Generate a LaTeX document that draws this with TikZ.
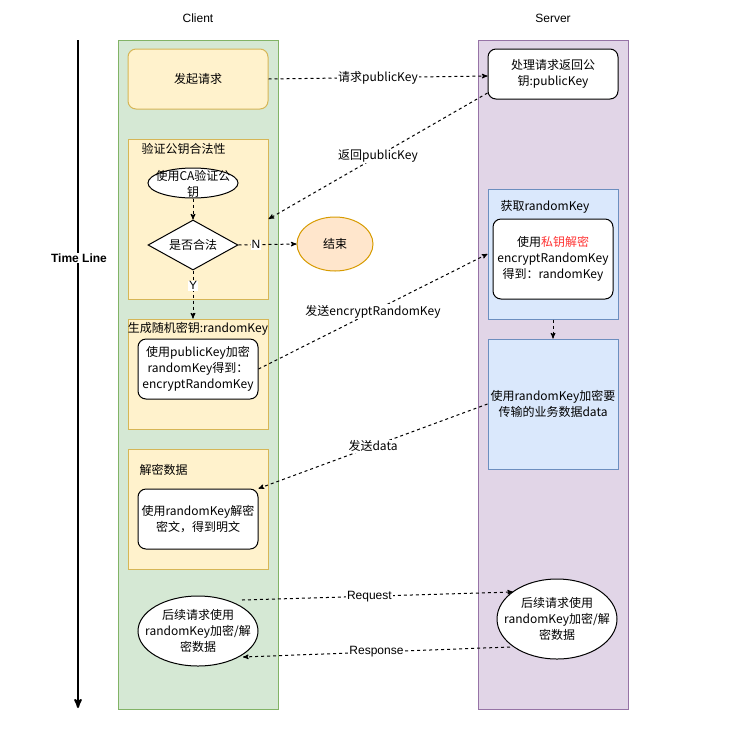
\documentclass[tikz,border=0pt]{standalone}
\usepackage{fontspec}
\setmainfont{Noto Sans CJK SC}
\newfontfamily\latinfont{Liberation Sans}
\usetikzlibrary{arrows,shapes}
\definecolor{clientfill}{HTML}{D5E8D4}
\definecolor{clientline}{HTML}{82B366}
\definecolor{serverfill}{HTML}{E1D5E7}
\definecolor{serverline}{HTML}{9673A6}
\definecolor{stepfill}{HTML}{FFF2CC}
\definecolor{stepline}{HTML}{D6B656}
\definecolor{keyfill}{HTML}{DAE8FC}
\definecolor{keyline}{HTML}{6C8EBF}
\definecolor{endfill}{HTML}{FFE6CC}
\definecolor{endline}{HTML}{D79B00}
\definecolor{keyred}{HTML}{FF3333}

\begin{document}
\begin{tikzpicture}[x=1pt,y=-1pt,>=stealth',line width=1pt,
                    font=\fontsize{12}{16}\selectfont]
  \tikzstyle{every node}=[inner sep=0pt,align=center]
  \tikzstyle{latin}=[font=\latinfont\fontsize{12}{14}\selectfont]
  \tikzstyle{lane}=[rectangle,draw,minimum height=669]
  \tikzstyle{yellowbox}=[rectangle,draw=stepline,fill=stepfill,minimum width=140]
  \tikzstyle{bluebox}=[rectangle,draw=keyline,fill=keyfill,minimum width=130]
  \tikzstyle{whitebox}=[rectangle,draw,fill=white,rounded corners=8]
  \tikzstyle{flow}=[->,dashed]
  \tikzstyle{lbl}=[fill=white,inner sep=1pt]

  \useasboundingbox (0,0) rectangle (752,748);

  % lanes
  \node[lane,fill=clientfill,draw=clientline,minimum width=160] (client) at (198,374.5) {};
  \node[lane,fill=serverfill,draw=serverline,minimum width=150] (server) at (553,374.5) {};
  \node[latin] (clienttitle) at (198,18) {Client};
  \node[latin] (servertitle) at (553,18) {Server};

  % time line
  \coordinate (tltop) at (78,40);
  \coordinate (tlend) at (78,708);
  \draw[->,line width=2pt] (tltop) -- (tlend);
  \node[fill=white,inner sep=1pt,font=\latinfont\bfseries\fontsize{12}{14}\selectfont] (timeline) at (79,258) {Time Line};

  % client side
  \node[yellowbox,rounded corners=8,minimum height=60] (start) at (198,79) {发起请求};

  \node[yellowbox,minimum height=160] (verify) at (198,219) {};
  \node[anchor=west] (verifytitle) at (141,149) {验证公钥合法性};
  \node[ellipse,draw,fill=white,minimum width=90,minimum height=30] (ca) at (193,183) {};
  \node (catext) at (193,184) {使用CA验证公\\钥};
  \node[diamond,draw,fill=white,minimum width=90,minimum height=50] (check) at (193,245) {};
  \node (checktext) at (193,245) {是否合法};
  \node[ellipse,draw=endline,fill=endfill,minimum width=76,minimum height=54] (end) at (335,244) {结束};

  \node[yellowbox,minimum height=110] (genkey) at (198,374) {};
  \node (genkeytitle) at (198,329) {生成随机密钥:randomKey};
  \node[whitebox,minimum width=120,minimum height=60] (encbox) at (198,369) {使用publicKey加密\\randomKey得到：\\encryptRandomKey};

  \node[yellowbox,minimum height=120] (decrypt) at (198,509) {};
  \node[anchor=west] (decrypttitle) at (139,470) {解密数据};
  \node[whitebox,minimum width=120,minimum height=60] (decbox) at (198,519) {使用randomKey解密\\密文，得到明文};

  \node[ellipse,draw,fill=white,minimum width=120,minimum height=70] (reqL) at (198,631) {};
  \node (reqLtext) at (198,631) {后续请求使用\\randomKey加密/解\\密数据};

  % server side
  \node[whitebox,minimum width=130,minimum height=50] (srvkey) at (553,74) {处理请求返回公\\钥:publicKey};

  \node[bluebox,minimum height=130] (getkey) at (553,254) {};
  \node[anchor=west] (getkeytitle) at (500,207) {获取randomKey};
  \node[whitebox,minimum width=120,minimum height=80] (keybox) at (553,259) {使用\textcolor{keyred}{私钥解密}\\encryptRandomKey\\得到：randomKey};

  \node[bluebox,minimum height=130] (encdata) at (553,404) {使用randomKey加密要\\传输的业务数据data};

  \node[ellipse,draw,fill=white,minimum width=120,minimum height=80] (reqR) at (557,619) {};
  \node (reqRtext) at (557,619) {后续请求使用\\randomKey加密/解\\密数据};

  % messages
  \path[flow] (start.east) edge node[lbl] {请求publicKey} ([yshift=-2]srvkey.west)
        ([yshift=-19]srvkey.west) edge node[lbl] {返回publicKey} (verify.east)
        (ca.south) edge (check.north)
        (check.east) edge node[lbl,pos=0.3,latin] {N} (end.west)
        (check.south) edge node[lbl,pos=0.32,latin] {Y} (check.south |- genkey.north)
        (encbox.east) edge node[lbl] {发送encryptRandomKey} (getkey.west)
        (getkey.south) edge (encdata.north)
        (encdata.west) edge node[lbl] {发送data} (decbox.north east)
        ([shift={(44,-31)}]reqL.center) edge node[lbl,pos=0.47,latin] {Request} ([shift={(-44,-27)}]reqR.center)
        ([shift={(-47,28)}]reqR.center) edge node[lbl,latin] {Response} ([shift={(45,26)}]reqL.center);
\end{tikzpicture}
\end{document}
